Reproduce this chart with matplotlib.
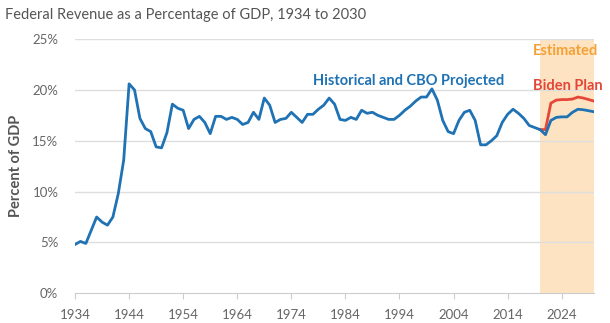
import numpy as np
import matplotlib
matplotlib.use("Agg")
import matplotlib.pyplot as plt

# Historical and CBO projected revenue, % of GDP
years = list(range(1934, 2031))
revenue = [4.8, 5.1, 4.9, 6.2, 7.5, 7.0, 6.7, 7.5, 9.8, 13.1,
           20.6, 20.0, 17.2, 16.2, 15.9, 14.4, 14.3, 15.8, 18.6, 18.2,
           18.0, 16.2, 17.1, 17.4, 16.8, 15.7, 17.4, 17.4, 17.1, 17.3,
           17.1, 16.6, 16.8, 17.8, 17.1, 19.2, 18.5, 16.8, 17.1, 17.2,
           17.8, 17.3, 16.8, 17.6, 17.6, 18.1, 18.5, 19.2, 18.6, 17.1,
           17.0, 17.3, 17.1, 18.0, 17.7, 17.8, 17.5, 17.3, 17.1, 17.1,
           17.5, 18.0, 18.4, 18.9, 19.3, 19.3, 20.1, 19.0, 17.0, 15.9,
           15.7, 17.0, 17.8, 18.0, 17.0, 14.6, 14.6, 15.0, 15.5, 16.8,
           17.6, 18.1, 17.7, 17.2, 16.5, 16.3, 16.1, 15.6, 17.0, 17.3,
           17.35, 17.35, 17.8, 18.1, 18.05, 17.95, 17.85]

biden_years = list(range(2020, 2031))
biden = [16.1, 16.1, 18.7, 19.0, 19.05, 19.05, 19.1, 19.3, 19.2, 19.05, 18.9]

yticks = [0, 5, 10, 15, 20, 25]
xticks = list(range(1934, 2031, 10))

blue = "#1f72b3"
red = "#e4473a"
orange = "#f5a033"

plt.rcParams["font.family"] = ["Lato", "DejaVu Sans"]

fig = plt.figure(figsize=(6.1, 3.23), dpi=100)
ax = fig.add_axes([0.123, 0.092, 0.851, 0.787])

ax.axvspan(2020, 2030, color="#fde3c2", zorder=0, lw=0)
for t in yticks[1:]:
    ax.axhline(t, color="#dedede", lw=1, zorder=1)

ax.plot(years, revenue, color=blue, lw=2, zorder=3, solid_joinstyle="round")
ax.plot(biden_years, biden, color=red, lw=2, zorder=2, solid_joinstyle="round")

ax.set_xlim(1934, 2030)
ax.set_ylim(0, 25)
ax.set_yticks(yticks)
ax.set_yticklabels([f"{t}%" for t in yticks])
ax.set_xticks(xticks)

for s in ["top", "right", "left"]:
    ax.spines[s].set_visible(False)
ax.spines["bottom"].set_color("#cccccc")
ax.tick_params(axis="y", length=0, pad=12, labelsize=9.5, labelcolor="#666666")
ax.tick_params(axis="x", length=4, color="#cccccc", labelsize=9.5, labelcolor="#666666", pad=7)

ax.set_ylabel("Percent of GDP", fontsize=10.5, color="#555555", fontweight="bold", labelpad=7)

ax.text(1978.1, 20.5, "Historical and CBO Projected", color=blue, fontsize=10.5, fontweight="bold")
ax.text(2018.7, 23.4, "Estimated", color=orange, fontsize=10.5, fontweight="bold")
ax.text(2018.7, 20.0, "Biden Plan", color=red, fontsize=10.5, fontweight="bold")

fig.text(0.008, 0.955, "Federal Revenue as a Percentage of GDP, 1934 to 2030",
         fontsize=10.5, color="#555555", va="center")

fig.savefig("out.png", dpi=100)
